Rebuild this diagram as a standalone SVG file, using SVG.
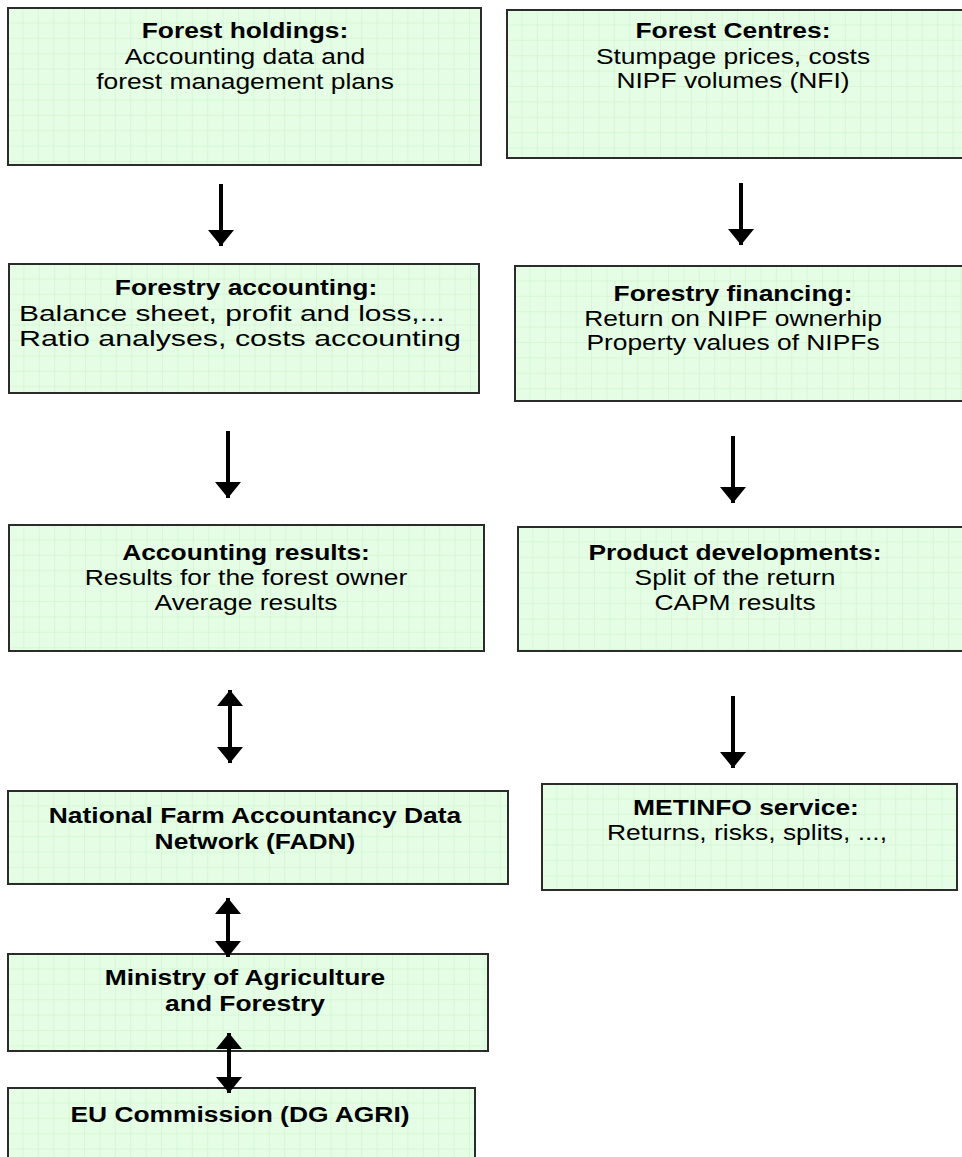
<svg xmlns="http://www.w3.org/2000/svg" width="962" height="1157" viewBox="0 0 962 1157">
  <defs>
    <pattern id="grid" width="15.4" height="15.4" patternUnits="userSpaceOnUse">
      <rect width="15.4" height="15.4" fill="#e4fde4"/>
      <path d="M15.4 0V15.4M0 15.4H15.4" stroke="#c9f3c9" stroke-width="1" fill="none"/>
    </pattern>
    <marker id="head" viewBox="0 0 16 26" refX="16" refY="13" markerWidth="16" markerHeight="26" markerUnits="userSpaceOnUse" orient="auto-start-reverse">
      <path d="M0 0L16 13L0 26Z" fill="#000"/>
    </marker>
  </defs>
  <style>
    .box { fill: url(#grid); stroke: #2b2b2b; stroke-width: 2; }
    text { font-family: "Liberation Sans", Arial, sans-serif; font-size: 22px; fill: #000; }
    .t { font-weight: bold; }
    .c { text-anchor: middle; }
    .conn { stroke: #000; stroke-width: 4; fill: none; }
  </style>

  <g id="forest-holdings" transform="translate(8,8)">
    <rect class="box" width="473" height="157"/>
    <text class="t c" transform="translate(237,30) scale(1.2,1)">Forest holdings:</text>
    <text class="c" transform="translate(237,56) scale(1.2,1)">Accounting data and</text>
    <text class="c" transform="translate(237,81) scale(1.2,1)">forest management plans</text>
  </g>

  <g id="forest-centres" transform="translate(507,10)">
    <rect class="box" width="462" height="148"/>
    <text class="t c" transform="translate(226,28) scale(1.2,1)">Forest Centres:</text>
    <text class="c" transform="translate(226,54) scale(1.2,1)">Stumpage prices, costs</text>
    <text class="c" transform="translate(226,78) scale(1.2,1)">NIPF volumes (NFI)</text>
  </g>

  <g id="forestry-accounting" transform="translate(9,264)">
    <rect class="box" width="470" height="129"/>
    <text class="t c" transform="translate(237,31) scale(1.2,1)">Forestry accounting:</text>
    <text transform="translate(10,57) scale(1.36,1)">Balance sheet, profit and loss,...</text>
    <text transform="translate(10,82) scale(1.38,1)">Ratio analyses, costs accounting</text>
  </g>

  <g id="forestry-financing" transform="translate(515,266)">
    <rect class="box" width="454" height="135"/>
    <text class="t c" transform="translate(218,35) scale(1.2,1)">Forestry financing:</text>
    <text class="c" transform="translate(218,60) scale(1.2,1)">Return on NIPF ownerhip</text>
    <text class="c" transform="translate(218,84) scale(1.2,1)">Property values of NIPFs</text>
  </g>

  <g id="accounting-results" transform="translate(9,525)">
    <rect class="box" width="475" height="126"/>
    <text class="t c" transform="translate(237,35) scale(1.2,1)">Accounting results:</text>
    <text class="c" transform="translate(237,60) scale(1.2,1)">Results for the forest owner</text>
    <text class="c" transform="translate(237,85) scale(1.2,1)">Average results</text>
  </g>

  <g id="product-developments" transform="translate(518,527)">
    <rect class="box" width="451" height="124"/>
    <text class="t c" transform="translate(217,33) scale(1.2,1)">Product developments:</text>
    <text class="c" transform="translate(217,58) scale(1.2,1)">Split of the return</text>
    <text class="c" transform="translate(217,83) scale(1.2,1)">CAPM results</text>
  </g>

  <g id="fadn" transform="translate(8,791)">
    <rect class="box" width="500" height="93"/>
    <text class="t c" transform="translate(247,32) scale(1.2,1)">National Farm Accountancy Data</text>
    <text class="t c" transform="translate(247,58) scale(1.2,1)">Network (FADN)</text>
  </g>

  <g id="metinfo" transform="translate(542,784)">
    <rect class="box" width="415" height="106"/>
    <text class="t c" transform="translate(204,31) scale(1.2,1)">METINFO service:</text>
    <text class="c" transform="translate(205,56) scale(1.2,1)">Returns, risks, splits, ...,</text>
  </g>

  <g id="ministry" transform="translate(8,954)">
    <rect class="box" width="480" height="97"/>
    <text class="t c" transform="translate(237,31) scale(1.2,1)">Ministry of Agriculture</text>
    <text class="t c" transform="translate(237,57) scale(1.2,1)">and Forestry</text>
  </g>

  <g id="eu-commission" transform="translate(8,1088)">
    <rect class="box" width="467" height="80"/>
    <text class="t c" transform="translate(232,34) scale(1.2,1)">EU Commission (DG AGRI)</text>
  </g>

  <g id="connectors">
    <line class="conn" x1="221" y1="184" x2="221" y2="246" marker-end="url(#head)"/>
    <line class="conn" x1="741" y1="183" x2="741" y2="245" marker-end="url(#head)"/>
    <line class="conn" x1="228" y1="431" x2="228" y2="498" marker-end="url(#head)"/>
    <line class="conn" x1="733" y1="436" x2="733" y2="503" marker-end="url(#head)"/>
    <line class="conn" x1="230" y1="690" x2="230" y2="763" marker-start="url(#head)" marker-end="url(#head)"/>
    <line class="conn" x1="733" y1="696" x2="733" y2="768" marker-end="url(#head)"/>
    <line class="conn" x1="228" y1="898" x2="228" y2="957" marker-start="url(#head)" marker-end="url(#head)"/>
    <line class="conn" x1="229" y1="1033" x2="229" y2="1093" marker-start="url(#head)" marker-end="url(#head)"/>
  </g>
</svg>
